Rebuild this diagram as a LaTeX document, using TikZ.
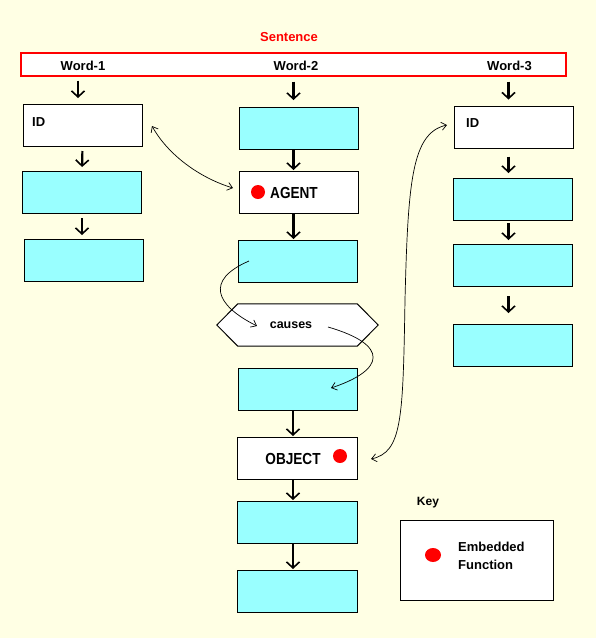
\documentclass[tikz,border=0pt]{standalone}
\usepackage{fontspec}
\setmainfont{Liberation Sans}
\newfontfamily\pixfont{Liberation Sans}[FakeStretch=0.85]
\usetikzlibrary{arrows.meta,calc}
\definecolor{bgy}{RGB}{255,255,228}
\definecolor{cyanf}{RGB}{153,255,255}
\tikzset{
  box/.style={draw=black, line width=1pt, minimum width=119pt, minimum height=42pt, inner sep=0pt, outer sep=0pt},
  cbox/.style={box, fill=cyanf},
  wbox/.style={box, fill=white},
  varrow/.style={line width=2.2pt, -{Straight Barb[length=6pt,width=13pt,line width=1.6pt]}},
  carrow/.style={line width=0.7pt, {Straight Barb[length=5pt,width=8pt,line width=0.7pt]}-{Straight Barb[length=5pt,width=8pt,line width=0.7pt]}},
  sarrow/.style={line width=0.7pt, -{Straight Barb[length=5pt,width=8pt,line width=0.7pt]}},
  lbl/.style={font=\bfseries\fontsize{13}{15}\selectfont, inner sep=0pt},
  big/.style={font=\pixfont\bfseries\fontsize{16}{18}\selectfont, inner sep=0pt},
  dot/.style={fill=red, draw=none, ellipse-free/.style={}},
}
\begin{document}
\begin{tikzpicture}[x=1pt,y=-1pt]
\useasboundingbox (0,0) rectangle (596,638);
\fill[bgy] (0,0) rectangle (596,638);

% Sentence
\node[lbl, text=red] (stitle) at (289,37) {Sentence};
\node[draw=red, line width=2pt, fill=white, minimum width=545pt, minimum height=23pt, inner sep=0pt] (sent) at (293,64) {};
\node[lbl] (w1) at (83,66) {Word-1};
\node[lbl] (w2) at (296,66) {Word-2};
\node[lbl] (w3) at (509.5,66) {Word-3};

% Column 1
\node[wbox] (id1) at (82.5,125) {};
\node[lbl, anchor=west] (id1t) at (32,122) {ID};
\node[cbox] (c1b) at (82,192) {};
\node[cbox] (c1c) at (83.5,260) {};

% Column 2
\node[cbox] (c2a) at (298.5,128) {};
\node[wbox] (agent) at (298.5,192) {};
\fill[red] (258,192) circle (7pt);
\node[big, anchor=west] (agentt) at (270,193) {AGENT};
\node[cbox] (c2c) at (297.5,261) {};
\node[minimum width=161pt, minimum height=42pt, inner sep=0pt] (hex) at (297.5,325) {};
\draw[line width=1pt, fill=white] (hex.west) -- ([xshift=21pt]hex.north west) -- ([xshift=-21pt]hex.north east) -- (hex.east) -- ([xshift=-21pt]hex.south east) -- ([xshift=21pt]hex.south west) -- cycle;
\node[lbl, font=\bfseries\fontsize{12.5}{14}\selectfont] (causes) at (291,325) {causes};
\node[cbox] (c2d) at (297.5,389) {};
\node[wbox, minimum width=120pt] (object) at (297,458) {};
\node[big] (objectt) at (293,459) {OBJECT};
\fill[red] (340,456) circle (7pt);
\node[cbox, minimum width=120pt] (c2f) at (297,522) {};
\node[cbox, minimum width=120pt] (c2g) at (297,591) {};

% Column 3
\node[wbox] (id3) at (513.5,127.5) {};
\node[lbl, anchor=west] (id3t) at (466,123) {ID};
\node[cbox] (c3b) at (512.5,199) {};
\node[cbox] (c3c) at (512.5,265) {};
\node[cbox] (c3d) at (512.5,345) {};

% Key
\node[lbl, font=\bfseries\fontsize{12}{14}\selectfont] (keyt) at (428,503) {Key};
\node[wbox, minimum width=153pt, minimum height=80pt] (key) at (476.5,560) {};
\fill[red] (433,555) ellipse (8pt and 7pt);
\node[lbl, anchor=west, align=left, font=\bfseries\fontsize{13}{18}\selectfont] (keyt2) at (458,556) {Embedded\\Function};

% Vertical arrows
\draw[varrow, shorten <=4pt, shorten >=6pt] ([xshift=-4.5pt]id1.north |- sent.south) -- ([xshift=-4.5pt]id1.north);
\draw[varrow, shorten <=5pt, shorten >=4pt] (id1.south) -- (c1b.north);
\draw[varrow, shorten <=5pt, shorten >=4pt] (c1b.south) -- (c1b.south |- c1c.north);

\draw[varrow, shorten <=5pt, shorten >=7pt] ([xshift=-5pt]c2a.north |- sent.south) -- ([xshift=-5pt]c2a.north);
\draw[varrow, shorten >=1pt] ([xshift=-5pt]c2a.south) -- ([xshift=-5pt]agent.north);
\draw[varrow, shorten >=1pt] ([xshift=-5pt]agent.south) -- ([xshift=-5pt]agent.south |- c2c.north);
\draw[varrow, shorten >=1pt] ([xshift=-4.5pt]c2d.south) -- ([xshift=-4.5pt]c2d.south |- object.north);
\draw[varrow, shorten >=1pt] ([xshift=-4pt]object.south) -- ([xshift=-4pt]c2f.north);
\draw[varrow, shorten >=1pt] ([xshift=-4pt]c2f.south) -- ([xshift=-4pt]c2g.north);

\draw[varrow, shorten <=5pt, shorten >=7pt] ([xshift=-5pt]id3.north |- sent.south) -- ([xshift=-5pt]id3.north);
\draw[varrow, shorten <=8pt, shorten >=5pt] ([xshift=-5pt]id3.south) -- ([xshift=-5pt]id3.south |- c3b.north);
\draw[varrow, shorten <=3pt, shorten >=4pt] ([xshift=-4pt]c3b.south) -- ([xshift=-4pt]c3c.north);
\draw[varrow, shorten <=10pt, shorten >=11pt] ([xshift=-4pt]c3c.south) -- ([xshift=-4pt]c3d.north);

% Curved connectors
\coordinate (pa) at (152,126);
\coordinate (pb) at (233,188);
\draw[carrow] (pa) .. controls (168,155) and (200,178) .. (pb);

\coordinate (pc) at (249,261);
\coordinate (pd) at (257,326);
\draw[sarrow] (pc) .. controls (205,280) and (215,305) .. (pd);

\coordinate (pe) at (328,327);
\coordinate (pf) at (331,388);
\draw[sarrow] (pe) .. controls (390,345) and (385,370) .. (pf);

\coordinate (pg) at (371,459);
\coordinate (pm) at (405,300);
\coordinate (ph) at (447,125);
\draw[carrow] (pg) .. controls (402,452) and (403,420) .. (pm) .. controls (408,180) and (412,133) .. (ph);
\end{tikzpicture}
\end{document}
